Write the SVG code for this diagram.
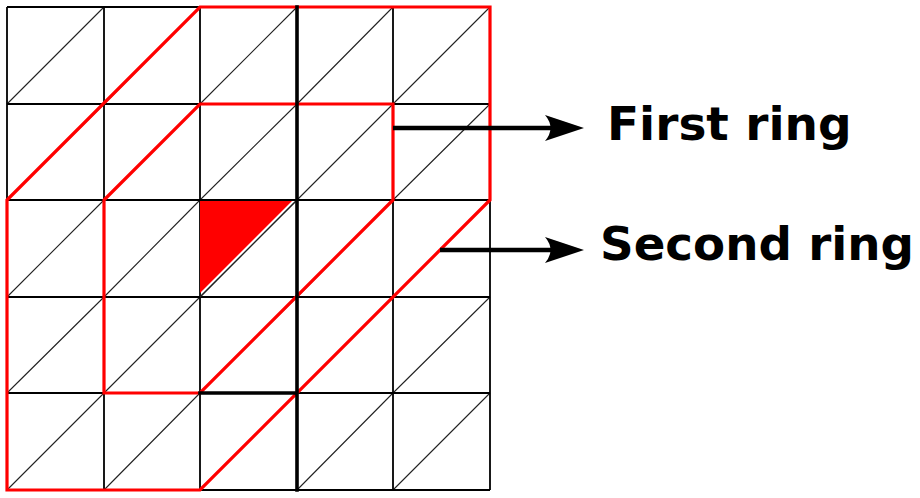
<svg xmlns="http://www.w3.org/2000/svg" width="920" height="498" viewBox="0 0 920 498">
  <style>
    .grid { stroke: #000; stroke-width: 1.8; fill: none; }
    .diag { stroke: #222; stroke-width: 1.1; fill: none; }
    .thick { stroke: #000; stroke-width: 3.6; fill: none; stroke-linecap: square; }
    .ring { stroke: #ff0000; stroke-width: 3.2; fill: none; stroke-linejoin: miter; }
    .arrow { stroke: #000; stroke-width: 4.5; fill: none; }
    .head { fill: #000; stroke: none; }
    .label { font-family: "DejaVu Sans", Verdana, sans-serif; font-weight: bold; font-size: 47px; fill: #000; }
  </style>
  <rect width="920" height="498" fill="#fff"/>
  <g id="grid">
    <g class="diag">
      <path d="M7,104 L104,7 M104,104 L200,7 M200,104 L297,7 M297,104 L393,7 M393,104 L490,7
               M7,200 L104,104 M104,200 L200,104 M200,200 L297,104 M297,200 L393,104 M393,200 L490,104
               M7,297 L104,200 M104,297 L200,200 M200,297 L297,200 M297,297 L393,200 M393,297 L490,200
               M7,393 L104,297 M104,393 L200,297 M200,393 L297,297 M297,393 L393,297 M393,393 L490,297
               M7,490 L104,393 M104,490 L200,393 M200,490 L297,393 M297,490 L393,393 M393,490 L490,393"/>
    </g>
    <g class="grid">
      <path d="M7,7 H490 M7,104 H490 M7,200 H490 M7,297 H490 M7,393 H490 M7,490 H490
               M7,7 V490 M104,7 V490 M200,7 V490 M297,7 V490 M393,7 V490 M490,7 V490"/>
    </g>
  </g>
  <g id="center-triangle">
    <polygon points="200,201 292,201 200,293" fill="#ff0000"/>
    <path class="diag" d="M200,297 L297,200"/>
  </g>
  <g id="second-ring">
    <polygon class="ring" points="200,7 490,7 490,200 200,490 7,490 7,200"/>
  </g>
  <g id="first-ring">
    <polygon class="ring" points="200,104 393,104 393,200 200,393 104,393 104,200"/>
  </g>
  <g id="thick-lines">
    <path class="thick" d="M297,7 V490 M200,393 H297"/>
  </g>
  <g id="connectors">
    <path class="arrow" d="M393,128 H560"/>
    <path class="head" d="M584,128 L545,115 Q556,128 545,141 Z"/>
    <path class="arrow" d="M440,250 H560"/>
    <path class="head" d="M584,250 L545,237 Q556,250 545,263 Z"/>
  </g>
  <g id="label-first">
    <text class="label" x="607" y="140">First ring</text>
  </g>
  <g id="label-second">
    <text class="label" x="600" y="260" textLength="314" lengthAdjust="spacingAndGlyphs">Second ring</text>
  </g>
</svg>
